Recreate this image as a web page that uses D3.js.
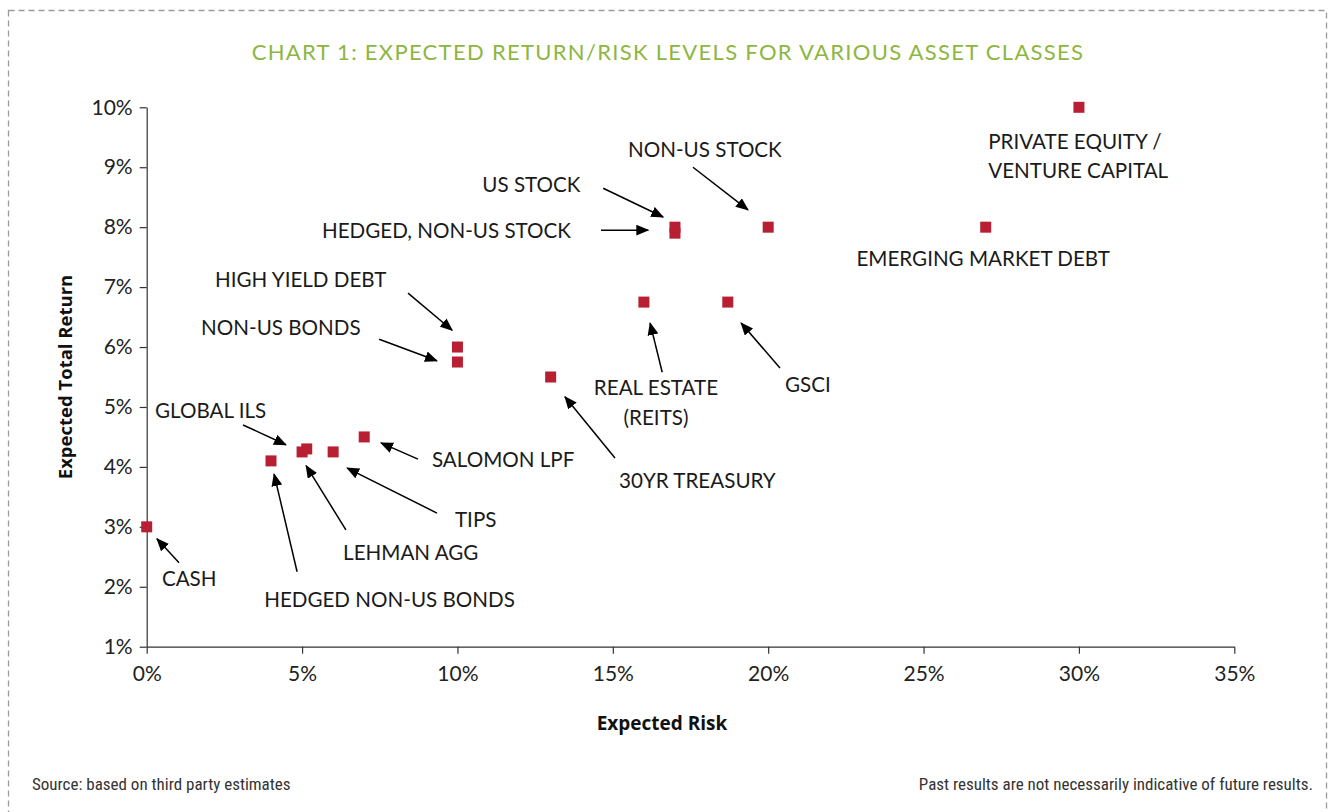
<!DOCTYPE html>
<html>
<head>
<meta charset="utf-8">
<script src="https://cdn.jsdelivr.net/npm/d3@7"></script>
<style>
  body { margin: 0; background: #fff; }
  svg { display: block; }
  .lbl { font-family: Lato, "Open Sans", sans-serif; font-size: 20.6px; fill: #1a1a1a; }
  .tick text { font-family: Lato, "Open Sans", sans-serif; font-size: 21px; fill: #222; }
  .foot { font-family: "Liberation Sans Narrow", "Roboto", sans-serif; font-stretch: condensed; font-size: 17px; fill: #333; }
</style>
</head>
<body>
<div id="my_chart"></div>
<script>
// asset classes: expected risk (%) and expected total return (%)
var assets = ["CASH", "GLOBAL ILS", "HEDGED NON-US BONDS", "LEHMAN AGG", "TIPS", "SALOMON LPF",
  "NON-US BONDS", "HIGH YIELD DEBT", "30YR TREASURY", "REAL ESTATE", "GSCI",
  "HEDGED, NON-US STOCK", "US STOCK", "NON-US STOCK", "EMERGING MARKET DEBT", "PRIVATE EQUITY"];
var risk   = [0, 4, 5, 5.15, 6, 7, 10, 10, 13, 16, 18.7, 17, 17, 20, 27, 30];
var ret    = [3, 4.1, 4.25, 4.3, 4.25, 4.5, 5.75, 6, 5.5, 6.75, 6.75, 7.9, 8, 8, 8, 10];

var xTicks = [0, 5, 10, 15, 20, 25, 30, 35];
var yTicks = [1, 2, 3, 4, 5, 6, 7, 8, 9, 10];

// label text lines and where they sit (in risk/return units)
var labelLines = [["CASH"], ["GLOBAL ILS"], ["HEDGED NON-US BONDS"], ["LEHMAN AGG"], ["TIPS"], ["SALOMON LPF"],
  ["NON-US BONDS"], ["HIGH YIELD DEBT"], ["30YR TREASURY"], ["REAL ESTATE", "(REITS)"], ["GSCI"],
  ["HEDGED, NON-US STOCK"], ["US STOCK"], ["NON-US STOCK"], ["EMERGING MARKET DEBT"], ["PRIVATE EQUITY /", "VENTURE CAPITAL"]];
var labelAt = [[0.49, 2.01], [0.27, 4.82], [3.78, 1.66], [6.32, 2.45], [9.92, 3.0], [9.18, 4.0],
  [1.75, 6.2], [2.2, 7.0], [15.2, 3.65], [16.39, 5.2], [20.54, 5.25],
  [5.64, 7.82], [10.8, 8.59], [15.49, 9.17], [22.84, 7.35], [27.08, 9.30]];
// arrows: [from risk, from return, to risk, to return], null = no arrow
var arrows = [[1.04, 2.40, 0.33, 2.80], [3.10, 4.70, 4.48, 4.37], [4.84, 2.25, 4.10, 3.88], [6.41, 2.95, 5.13, 4.02],
  [9.34, 3.23, 6.45, 3.98], [8.73, 4.13, 7.54, 4.40], [7.48, 6.13, 9.34, 5.77], [8.41, 6.90, 9.83, 6.28],
  [15.07, 4.15, 13.46, 5.17], [16.59, 5.58, 16.2, 6.40], [20.38, 5.65, 19.13, 6.40],
  [14.62, 7.95, 16.14, 7.95], [14.69, 8.65, 16.62, 8.17], [17.58, 9.0, 19.35, 8.29], null, null];

var W = 1328, H = 812;
var svg = d3.select("#my_chart").append("svg").attr("width", W).attr("height", H);

// dashed frame
svg.append("rect").attr("x", 8.5).attr("y", 10.5).attr("width", 1318).attr("height", 830)
  .attr("fill", "none").attr("stroke", "#9a9a9a").attr("stroke-width", 1.3).attr("stroke-dasharray", "6,4");

svg.append("text").attr("x", 668).attr("y", 60).attr("text-anchor", "middle")
  .style("font-family", "Lato, 'Open Sans', sans-serif").style("font-size", "22px")
  .style("letter-spacing", "1.3px").attr("fill", "#8db641")
  .text("CHART 1: EXPECTED RETURN/RISK LEVELS FOR VARIOUS ASSET CLASSES");

var x = d3.scaleLinear().domain([0, 35]).range([146.7, 1234.3]);
var y = d3.scaleLinear().domain([1, 10]).range([646.7, 107.3]);

var xAxis = svg.append("g").attr("transform", "translate(0," + y(1) + ")")
  .call(d3.axisBottom(x).tickValues(xTicks).tickSize(7).tickSizeOuter(0).tickPadding(12).tickFormat(function(d) { return d + "%"; }));
var yAxis = svg.append("g").attr("transform", "translate(" + x(0) + ",0)")
  .call(d3.axisLeft(y).tickValues(yTicks).tickSize(7).tickSizeOuter(0).tickPadding(7).tickFormat(function(d) { return d + "%"; }));
svg.selectAll(".domain, .tick line").attr("stroke", "#333").attr("stroke-width", 1.2);
svg.selectAll(".tick text").attr("font-family", null).attr("font-size", null);

svg.append("text").attr("x", 662).attr("y", 730).attr("text-anchor", "middle")
  .style("font-family", "'Open Sans', sans-serif").style("font-weight", "bold").style("font-size", "19px")
  .attr("fill", "#111").text("Expected Risk");
svg.append("text").attr("transform", "translate(72,377) rotate(-90)").attr("text-anchor", "middle")
  .style("font-family", "'Open Sans', sans-serif").style("font-weight", "bold").style("font-size", "18.5px")
  .attr("fill", "#111").text("Expected Total Return");

// arrow head
svg.append("defs").append("marker").attr("id", "head")
  .attr("viewBox", "0 0 12 10").attr("refX", 11).attr("refY", 5)
  .attr("markerUnits", "userSpaceOnUse").attr("markerWidth", 13).attr("markerHeight", 11)
  .attr("orient", "auto")
  .append("path").attr("d", "M0,0 L12,5 L0,10 Z").attr("fill", "#000");

var pts = assets.map(function(a, i) {
  return { name: a, risk: risk[i], ret: ret[i], lines: labelLines[i], at: labelAt[i], arrow: arrows[i] };
});

svg.selectAll(".arr").data(pts.filter(function(d) { return d.arrow; })).enter()
  .append("line").attr("class", "arr")
  .attr("x1", function(d) { return x(d.arrow[0]); }).attr("y1", function(d) { return y(d.arrow[1]); })
  .attr("x2", function(d) { return x(d.arrow[2]); }).attr("y2", function(d) { return y(d.arrow[3]); })
  .attr("stroke", "#000").attr("stroke-width", 1.5).attr("marker-end", "url(#head)");

// squares
var s = 11;
svg.selectAll(".pt").data(pts).enter().append("rect").attr("class", "pt")
  .attr("x", function(d) { return x(d.risk) - s / 2; }).attr("y", function(d) { return y(d.ret) - s / 2; })
  .attr("width", s).attr("height", s).attr("fill", "#b81f32");

// labels
svg.selectAll(".lbl").data(pts).enter().append("text").attr("class", "lbl")
  .attr("x", function(d) { return x(d.at[0]); }).attr("y", function(d) { return y(d.at[1]); })
  .attr("text-anchor", function(d) { return d.name == "REAL ESTATE" ? "middle" : "start"; })
  .each(function(d) {
    var t = d3.select(this);
    d.lines.forEach(function(l, k) {
      t.append("tspan").attr("x", x(d.at[0])).attr("dy", k == 0 ? 0 : (d.name == "REAL ESTATE" ? 30 : 29)).text(l);
    });
  });

svg.append("text").attr("class", "foot").attr("x", 32).attr("y", 790).text("Source: based on third party estimates");
svg.append("text").attr("class", "foot").attr("x", 1313).attr("y", 790).attr("text-anchor", "end")
  .text("Past results are not necessarily indicative of future results.");
</script>
</body>
</html>
